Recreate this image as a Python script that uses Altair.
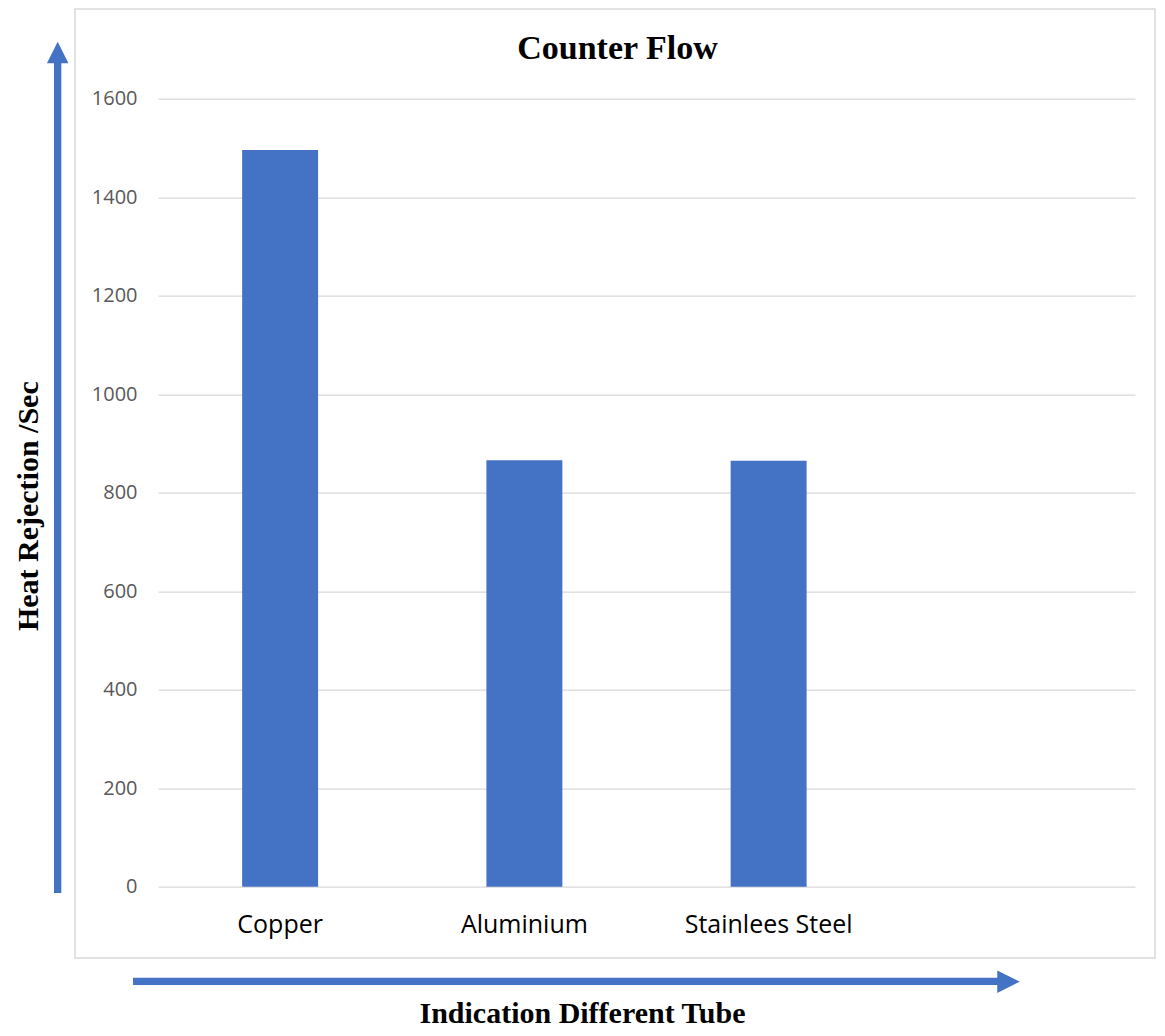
import altair as alt
import pandas as pd

# ---- data ----
categories = ["Copper", "Aluminium", "Stainlees Steel"]
values = [1496, 866, 865]
x_domain = ["Copper", "Aluminium", "Stainlees Steel", " "]
y_ticks = [0, 200, 400, 600, 800, 1000, 1200, 1400, 1600]

title_text = "Counter Flow"
x_title = "Indication Different Tube"
y_title = "Heat Rejection /Sec"

BLUE = "#4472C4"
GRID = "#d9d9d9"

df = pd.DataFrame({"tube": categories, "value": values})
one = pd.DataFrame({"k": [0]})

W, H = 977, 788

# chart-area frame (transparent fill so the axes below stay visible)
frame = alt.Chart(one).mark_rect(fillOpacity=0, stroke=GRID, strokeWidth=1.5).encode(
    x=alt.value(-83), x2=alt.value(997), y=alt.value(-89.7), y2=alt.value(859.3)
)

bars = alt.Chart(df).mark_bar(color=BLUE, width={"band": 0.311}).encode(
    x=alt.X(
        "tube:N",
        scale=alt.Scale(domain=x_domain, paddingInner=0, paddingOuter=0),
        sort=x_domain,
        axis=alt.Axis(
            title=x_title,
            labelAngle=0,
            labelFont="Open Sans",
            labelFontSize=25,
            labelColor="#000000",
            labelPadding=26,
            labelBaseline="top",
            domain=False,
            ticks=False,
            grid=False,
            titleFont="Liberation Serif",
            titleFontSize=30,
            titleFontWeight="bold",
            titleColor="#000000",
            titleX=424,
            titleY=136,
            titleAlign="center",
            titleBaseline="alphabetic",
        ),
    ),
    y=alt.Y(
        "value:Q",
        scale=alt.Scale(domain=[0, 1600], nice=False),
        axis=alt.Axis(
            values=y_ticks,
            format="d",
            title=y_title,
            labelFont="Open Sans",
            labelFontSize=20,
            labelColor="#595959",
            labelPadding=21,
            domain=False,
            ticks=False,
            grid=True,
            gridColor=GRID,
            gridWidth=1.3,
            titleFont="Liberation Serif",
            titleFontSize=30,
            titleFontWeight="bold",
            titleColor="#000000",
            titleAngle=270,
            titleX=-121,
            titleY=407,
            titleAlign="center",
            titleBaseline="alphabetic",
        ),
    ),
)

# arrows
v_shaft = alt.Chart(one).mark_rect(color=BLUE).encode(
    x=alt.value(-104), x2=alt.value(-96.7), y=alt.value(-36), y2=alt.value(794.3)
)
v_head = alt.Chart(one).mark_point(
    shape="M0,-1L1,1L-1,1Z", filled=True, size=462, color=BLUE, opacity=1, strokeWidth=0
).encode(x=alt.value(-100.3), y=alt.value(-46.2))

h_shaft = alt.Chart(one).mark_rect(color=BLUE).encode(
    x=alt.value(-25), x2=alt.value(840), y=alt.value(879), y2=alt.value(886.3)
)
h_head = alt.Chart(one).mark_point(
    shape="M1,0L-1,-1L-1,1Z", filled=True, size=506, color=BLUE, opacity=1, strokeWidth=0
).encode(x=alt.value(850.5), y=alt.value(883))

title = alt.Chart(one).mark_text(
    text=title_text,
    font="Liberation Serif",
    fontSize=34,
    fontWeight="bold",
    color="#000000",
    align="center",
    baseline="alphabetic",
).encode(x=alt.value(459.5), y=alt.value(-39.7))

chart = (
    alt.layer(frame, bars, v_shaft, v_head, h_shaft, h_head, title)
    .properties(
        width=W,
        height=H,
        autosize=alt.AutoSizeParams(type="none"),
        padding={"left": 150, "top": 90.7, "right": 22, "bottom": 143},
        background="white",
    )
    .configure_view(stroke=None)
)

chart.save("out.html", embed_options={"renderer": "svg", "actions": False})
